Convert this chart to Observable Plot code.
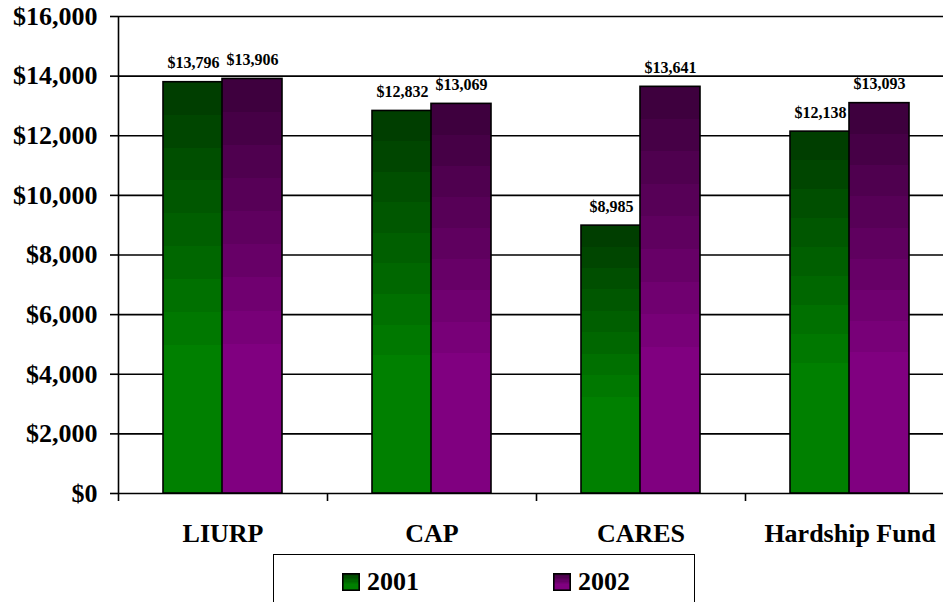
<!DOCTYPE html>
<html>
<head>
<meta charset="utf-8">
<script src="https://cdn.jsdelivr.net/npm/d3@7"></script>
<script src="https://cdn.jsdelivr.net/npm/@observablehq/plot@0.6"></script>
<style>
  html, body { margin: 0; padding: 0; background: #fff; }
  #wrap { position: relative; width: 943px; height: 602px; overflow: hidden; }
  .legend {
    position: absolute; left: 273px; top: 554px; width: 422px; height: 60px;
    border: 1.5px solid #000; border-bottom: none; box-sizing: border-box;
    font-family: "Times New Roman", "Liberation Serif", "DejaVu Serif", serif; font-weight: bold; font-size: 26px;
  }
  .legend .item { position: absolute; top: 12px; display: flex; align-items: center; }
  .legend svg { margin-right: 7px; }
  svg text { font-family: "Times New Roman", "Liberation Serif", "DejaVu Serif", serif; }
</style>
</head>
<body>
<div id="wrap"></div>
<script>
// Program categories and average amounts per year
const programs = ["LIURP", "CAP", "CARES", "Hardship Fund"];
const years = ["2001", "2002"];
const values2001 = [13796, 12832, 8985, 12138];
const values2002 = [13906, 13069, 13641, 13093];
const yTicks = [0, 2000, 4000, 6000, 8000, 10000, 12000, 14000, 16000];

const font = `"Times New Roman", "Liberation Serif", "DejaVu Serif", serif`;
const fmt = d3.format("$,");

const rows2001 = programs.map((p, i) => ({program: p, year: years[0], value: values2001[i]}));
const rows2002 = programs.map((p, i) => ({program: p, year: years[1], value: values2002[i]}));

// Stepped vertical shading: dark at the top, full colour from ~72% down
function shading(id, top, bottom) {
  const ns = "http://www.w3.org/2000/svg";
  const g = document.createElementNS(ns, "linearGradient");
  g.setAttribute("id", id);
  g.setAttribute("x1", 0); g.setAttribute("y1", 0);
  g.setAttribute("x2", 0); g.setAttribute("y2", 1);
  const steps = 9, end = 0.72;
  const mix = d3.interpolateRgb(top, bottom);
  for (let k = 0; k < steps; k++) {
    const c = mix(k / (steps - 1));
    for (const off of [k * end / steps, (k + 1) * end / steps]) {
      const s = document.createElementNS(ns, "stop");
      s.setAttribute("offset", off);
      s.setAttribute("stop-color", c);
      g.appendChild(s);
    }
  }
  const s = document.createElementNS(ns, "stop");
  s.setAttribute("offset", 1);
  s.setAttribute("stop-color", bottom);
  g.appendChild(s);
  return g;
}

function defs() {
  const ns = "http://www.w3.org/2000/svg";
  const d = document.createElementNS(ns, "defs");
  d.appendChild(shading("g2001", "#003e00", "#008000"));
  d.appendChild(shading("g2002", "#3e003e", "#800080"));
  return d;
}

const chart = Plot.plot({
  width: 943,
  height: 554,
  marginLeft: 118,
  marginRight: 0,
  marginTop: 16,
  marginBottom: 61,
  style: {fontFamily: font, fontWeight: "bold", background: "white", overflow: "hidden"},
  x: {domain: programs, range: [118, 954], padding: 0, label: null},
  y: {domain: [0, 16000], label: null},
  marks: [
    defs,
    // horizontal gridlines
    Plot.ruleY(yTicks, {stroke: "#000", strokeWidth: 1.6}),
    // y-axis with outward ticks
    Plot.axisY(yTicks, {tickSize: 8, tickPadding: 13, tickFormat: fmt, fontSize: 26, stroke: "#000", strokeWidth: 1.6, strokeOpacity: 1, label: null}),
    // y-axis line along the left band edge
    Plot.ruleX([programs[0]], {dx: -104.5, y1: 0, y2: 16000, stroke: "#000", strokeWidth: 1.6}),
    // category separators below the baseline
    Plot.axisX({tickSize: 8, text: null, dx: -104.5, stroke: "#000", strokeWidth: 1.6, strokeOpacity: 1, label: null}),
    Plot.axisX({tickSize: 0, tickPadding: 30, fontSize: 26, label: null}),
    Plot.barY(rows2001, {x: "program", y: "value", insetLeft: 45, insetRight: 104, fill: "url(#g2001)", stroke: "#000", strokeWidth: 1.6}),
    Plot.barY(rows2002, {x: "program", y: "value", insetLeft: 104, insetRight: 45, fill: "url(#g2002)", stroke: "#000", strokeWidth: 1.6}),
    Plot.text(rows2001, {x: "program", y: "value", text: d => fmt(d.value), dx: -29.5, dy: -19, fontSize: 16, fill: "#000"}),
    Plot.text(rows2002, {x: "program", y: "value", text: d => fmt(d.value), dx: 29.5, dy: -19, fontSize: 16, fill: "#000"})
  ]
});

const wrap = document.getElementById("wrap");
wrap.appendChild(chart);

// legend box below the chart
const legend = document.createElement("div");
legend.className = "legend";
const swatchColors = ["url(#g2001)", "url(#g2002)"];
const swatchLeft = [68, 279];
years.forEach((y, i) => {
  const item = document.createElement("div");
  item.className = "item";
  item.style.left = swatchLeft[i] + "px";
  item.innerHTML = `<svg width="18" height="18"><rect x="0.8" y="0.8" width="16.4" height="16.4" fill="${swatchColors[i]}" stroke="#000" stroke-width="1.6"/></svg><span>${y}</span>`;
  legend.appendChild(item);
});
wrap.appendChild(legend);
</script>
</body>
</html>
